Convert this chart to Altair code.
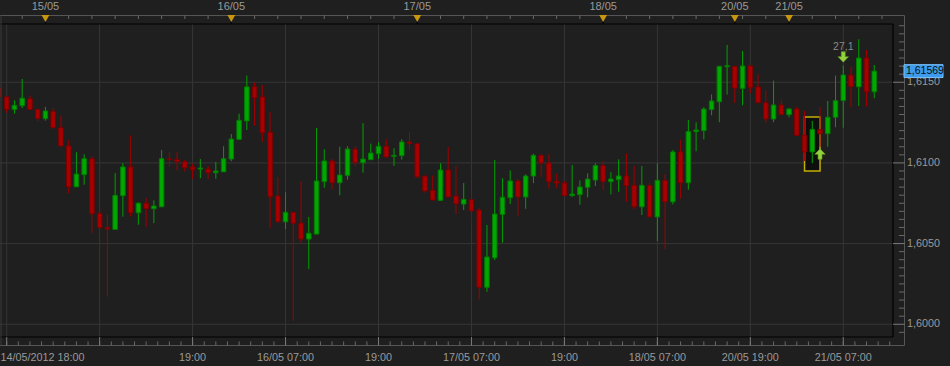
import altair as alt
import pandas as pd

# ---------------- data ----------------
opens = [1.61464, 1.61409, 1.61332, 1.61355, 1.61398, 1.61332, 1.61274, 1.61320, 1.61218, 1.61105,
         1.60852, 1.60927, 1.61026, 1.60688, 1.60601, 1.60588, 1.60797, 1.60975, 1.60691, 1.60750,
         1.60716, 1.60728, 1.61026, 1.61022, 1.61007, 1.60975, 1.60962, 1.60962, 1.60939, 1.60945,
         1.61024, 1.61146, 1.61260, 1.61471, 1.61409, 1.61190, 1.60795, 1.60635, 1.60694, 1.60627,
         1.60528, 1.60559, 1.60884, 1.61012, 1.60877, 1.60923, 1.61086, 1.61001, 1.61020, 1.61057,
         1.61103, 1.61041, 1.61045, 1.61130, 1.61119, 1.60919, 1.60830, 1.60768, 1.60956, 1.60795,
         1.60745, 1.60772, 1.60708, 1.60229, 1.60412, 1.60681, 1.60784, 1.60888, 1.60789, 1.60919,
         1.61047, 1.60999, 1.60886, 1.60875, 1.60797, 1.60803, 1.60849, 1.60894, 1.60983, 1.60884,
         1.60896, 1.60919, 1.60861, 1.60728, 1.60861, 1.60665, 1.60892, 1.60759, 1.61068, 1.60877,
         1.61194, 1.61200, 1.61330, 1.61379, 1.61596, 1.61599, 1.61462, 1.61601, 1.61471, 1.61373,
         1.61272, 1.61359, 1.61299, 1.61334, 1.61171, 1.61068, 1.61206, 1.61181, 1.61283, 1.61386,
         1.61545, 1.61472, 1.61650, 1.61441]
highs = [1.61471, 1.61412, 1.61388, 1.61520, 1.61419, 1.61334, 1.61347, 1.61340, 1.61293, 1.61142,
         1.61066, 1.61053, 1.61041, 1.60722, 1.60681, 1.60937, 1.60999, 1.61171, 1.60756, 1.60782,
         1.60768, 1.61080, 1.61069, 1.61066, 1.61018, 1.60995, 1.61024, 1.60981, 1.61006, 1.61103,
         1.61179, 1.61305, 1.61541, 1.61497, 1.61483, 1.61314, 1.60913, 1.60818, 1.60696, 1.60886,
         1.60665, 1.61216, 1.61084, 1.61024, 1.61100, 1.61103, 1.61105, 1.61247, 1.61119, 1.61128,
         1.61146, 1.61091, 1.61148, 1.61190, 1.61121, 1.60921, 1.60921, 1.60998, 1.61100, 1.60981,
         1.60875, 1.60797, 1.60720, 1.60615, 1.61018, 1.60905, 1.60954, 1.60900, 1.60929, 1.61057,
         1.61057, 1.61055, 1.60933, 1.60888, 1.60987, 1.60892, 1.60936, 1.60998, 1.61012, 1.60942,
         1.61022, 1.61059, 1.60981, 1.60981, 1.60877, 1.60998, 1.60931, 1.61080, 1.61144, 1.61266,
         1.61252, 1.61345, 1.61425, 1.61601, 1.61731, 1.61601, 1.61694, 1.61603, 1.61551, 1.61448,
         1.61510, 1.61394, 1.61340, 1.61347, 1.61322, 1.61260, 1.61345, 1.61384, 1.61541, 1.61603,
         1.61596, 1.61766, 1.61700, 1.61607]
lows = [1.61402, 1.61311, 1.61305, 1.61340, 1.61330, 1.61258, 1.61262, 1.61210, 1.61103, 1.60812,
        1.60850, 1.60865, 1.60567, 1.60596, 1.60171, 1.60586, 1.60667, 1.60667, 1.60617, 1.60604,
        1.60627, 1.60726, 1.60976, 1.60954, 1.60945, 1.60900, 1.60905, 1.60900, 1.60902, 1.60945,
        1.61010, 1.61146, 1.61204, 1.61231, 1.61130, 1.60598, 1.60629, 1.60590, 1.60020, 1.60502,
        1.60342, 1.60559, 1.60846, 1.60836, 1.60799, 1.60896, 1.60981, 1.60939, 1.61018, 1.61026,
        1.61030, 1.60981, 1.61020, 1.61084, 1.60905, 1.60815, 1.60768, 1.60764, 1.60787, 1.60683,
        1.60708, 1.60609, 1.60154, 1.60201, 1.60398, 1.60505, 1.60745, 1.60671, 1.60716, 1.60875,
        1.60913, 1.60840, 1.60843, 1.60795, 1.60790, 1.60741, 1.60787, 1.60857, 1.60832, 1.60805,
        1.60821, 1.60759, 1.60714, 1.60677, 1.60663, 1.60516, 1.60466, 1.60743, 1.60778, 1.60834,
        1.61072, 1.61146, 1.61295, 1.61252, 1.61423, 1.61371, 1.61357, 1.61432, 1.61371, 1.61247,
        1.61252, 1.61297, 1.61283, 1.61169, 1.61012, 1.60998, 1.61100, 1.61100, 1.61221, 1.61218,
        1.61345, 1.61353, 1.61349, 1.61401]
closes = [1.61409, 1.61332, 1.61357, 1.61401, 1.61332, 1.61274, 1.61322, 1.61218, 1.61105, 1.60852,
          1.60931, 1.61026, 1.60685, 1.60598, 1.60590, 1.60799, 1.60975, 1.60691, 1.60750, 1.60716,
          1.60733, 1.61026, 1.61020, 1.61007, 1.60970, 1.60958, 1.60968, 1.60939, 1.60950, 1.61026,
          1.61148, 1.61264, 1.61471, 1.61404, 1.61187, 1.60790, 1.60635, 1.60694, 1.60626, 1.60528,
          1.60564, 1.60888, 1.61012, 1.60877, 1.60925, 1.61086, 1.61001, 1.61024, 1.61061, 1.61103,
          1.61038, 1.61047, 1.61130, 1.61119, 1.60913, 1.60826, 1.60770, 1.60956, 1.60789, 1.60747,
          1.60774, 1.60702, 1.60229, 1.60417, 1.60683, 1.60787, 1.60888, 1.60789, 1.60919, 1.61047,
          1.60999, 1.60884, 1.60875, 1.60797, 1.60807, 1.60851, 1.60900, 1.60983, 1.60884, 1.60900,
          1.60919, 1.60859, 1.60728, 1.60861, 1.60665, 1.60892, 1.60759, 1.61068, 1.60877, 1.61194,
          1.61204, 1.61334, 1.61384, 1.61599, 1.61603, 1.61464, 1.61601, 1.61469, 1.61373, 1.61272,
          1.61359, 1.61299, 1.61334, 1.61171, 1.61069, 1.61208, 1.61181, 1.61283, 1.61386, 1.61545,
          1.61472, 1.61650, 1.61441, 1.61569]

grid_idx = [1, 13, 25, 37, 49, 61, 73, 85, 97, 109]
bottom_idx = [25, 37, 49, 61, 73, 85, 97, 109]
bottom_labels = ["19:00", "16/05 07:00", "19:00", "17/05 07:00", "19:00",
                 "18/05 07:00", "20/05 19:00", "21/05 07:00"]
first_label = "14/05/2012 18:00"
top_idx = [6, 30, 54, 78, 95, 102]
top_labels = ["15/05", "16/05", "17/05", "18/05", "20/05", "21/05"]
price_levels = [1.6000, 1.6050, 1.6100, 1.6150]
price_labels = ["1,6000", "1,6050", "1,6100", "1,6150"]
minor_prices = [1.5995, 1.6005, 1.6010, 1.6015, 1.6020, 1.6025, 1.6030, 1.6035, 1.6040, 1.6045,
                1.6055, 1.6060, 1.6065, 1.6070, 1.6075, 1.6080, 1.6085, 1.6090, 1.6095,
                1.6105, 1.6110, 1.6115, 1.6120, 1.6125, 1.6130, 1.6135, 1.6140, 1.6145,
                1.6155, 1.6160, 1.6165, 1.6170, 1.6175, 1.6180, 1.6185]
top_tick_idx = list(range(0, 116, 3))
bottom_tick_idx = [1 + 1.5 * n for n in range(0, 77)]
last_price = 1.61569
last_label = "1,61569"
box_idx = [104, 106]
box_prices = [1.60950, 1.61285]
signal_down = {"i": 109, "p": 1.61657, "label": "27,1", "label_p": 1.61719}
signal_up = {"i": 106, "p": 1.61055}

# ---------------- styling ----------------
BG = "#1f1f1f"
GRID = "#363636"
FRAME_GRAY = "#555555"
TICK = "#6a6a6a"
TXT = "#9a9a9a"
FONT = "Liberation Sans"
G_FILL, G_STROKE, G_WICK = "#00a800", "#007d00", "#00a000"
R_FILL, R_STROKE, R_WICK = "#a80000", "#7d0000", "#a00000"

W, H = 893, 313
X = alt.Scale(domain=[0.135, 115.42], nice=False, zero=False)
Y = alt.Scale(domain=[1.59921, 1.61861], nice=False, zero=False)

df = pd.DataFrame({"i": list(range(len(opens))), "open": opens, "high": highs,
                   "low": lows, "close": closes})
up = "datum.close >= datum.open"

one = pd.DataFrame({"a": [0]})

def xq(f):
    return alt.X(f, type="quantitative", scale=X, axis=None)

def yq(f):
    return alt.Y(f, type="quantitative", scale=Y, axis=None)

layers = []

# gridlines
layers.append(alt.Chart(pd.DataFrame({"i": grid_idx})).mark_rule(color=GRID, strokeWidth=1).encode(
    x=xq("i"), y=alt.value(0), y2=alt.value(H)))
layers.append(alt.Chart(pd.DataFrame({"p": price_levels})).mark_rule(color=GRID, strokeWidth=1).encode(
    y=yq("p"), x=alt.value(0), x2=alt.value(W)))

# yellow highlight box
layers.append(alt.Chart(pd.DataFrame({"x1": [box_idx[0]], "x2": [box_idx[1]],
                                      "y1": [box_prices[0]], "y2": [box_prices[1]]}))
              .mark_rect(fill="#0e0e0e", stroke="#c2b000", strokeWidth=1.5).encode(
    x=xq("x1"), x2="x2:Q", y=yq("y1"), y2="y2:Q"))

# wicks
layers.append(alt.Chart(df).mark_rule(strokeWidth=1).encode(
    x=xq("i"), y=yq("low"), y2="high:Q",
    color=alt.condition(up, alt.value(G_WICK), alt.value(R_WICK))))

# bodies
layers.append(alt.Chart(df).transform_calculate(xa="datum.i - 0.29", xb="datum.i + 0.29")
              .mark_rect(strokeWidth=1).encode(
    x=xq("xa"), x2="xb:Q", y=yq("open"), y2="close:Q",
    fill=alt.condition(up, alt.value(G_FILL), alt.value(R_FILL)),
    stroke=alt.condition(up, alt.value(G_STROKE), alt.value(R_STROKE))))

# signal arrows
down_arrow = "M-0.38,-1 L0.38,-1 L0.38,-0.05 L1,-0.05 L0,1 L-1,-0.05 L-0.38,-0.05 Z"
up_arrow = "M-0.38,1 L0.38,1 L0.38,0.05 L1,0.05 L0,-1 L-1,0.05 L-0.38,0.05 Z"
layers.append(alt.Chart(pd.DataFrame({"i": [signal_down["i"]], "p": [signal_down["p"]]}))
              .mark_point(shape=down_arrow, filled=True, size=110, fill="#93d23c",
                          stroke="#5f9a22", strokeWidth=0.6, opacity=1).encode(
    x=xq("i"), y=yq("p")))
layers.append(alt.Chart(pd.DataFrame({"i": [signal_up["i"]], "p": [signal_up["p"]]}))
              .mark_point(shape=up_arrow, filled=True, size=110, fill="#93d23c",
                          stroke="#5f9a22", strokeWidth=0.6, opacity=1).encode(
    x=xq("i"), y=yq("p")))
layers.append(alt.Chart(pd.DataFrame({"i": [signal_down["i"]], "p": [signal_down["label_p"]],
                                      "t": [signal_down["label"]]}))
              .mark_text(font=FONT, fontSize=10.5, color="#8a8a8a", align="center", baseline="middle").encode(
    x=xq("i"), y=yq("p"), text="t:N"))

# black plot frame
layers.append(alt.Chart(one).mark_rule(color="#000000", strokeWidth=1.2).encode(
    x=alt.value(0), x2=alt.value(W), y=alt.value(0)))
layers.append(alt.Chart(one).mark_rule(color="#000000", strokeWidth=1.2).encode(
    x=alt.value(0), x2=alt.value(W), y=alt.value(H)))
layers.append(alt.Chart(one).mark_rule(color="#000000", strokeWidth=1.2).encode(
    x=alt.value(W), y=alt.value(0), y2=alt.value(H)))

# gray outer frame
layers.append(alt.Chart(one).mark_rule(color=FRAME_GRAY, strokeWidth=1).encode(
    x=alt.value(0), x2=alt.value(904.5), y=alt.value(-8.5)))
layers.append(alt.Chart(one).mark_rule(color=FRAME_GRAY, strokeWidth=1).encode(
    x=alt.value(0), x2=alt.value(904.5), y=alt.value(321.5)))
layers.append(alt.Chart(one).mark_rule(color=FRAME_GRAY, strokeWidth=1).encode(
    x=alt.value(904.5), y=alt.value(-8.5), y2=alt.value(321.5)))
layers.append(alt.Chart(one).mark_rule(color="#3a3a3a", strokeWidth=1).encode(
    x=alt.value(1), y=alt.value(-8.5), y2=alt.value(321.5)))

# top strip: ticks, markers, labels
layers.append(alt.Chart(pd.DataFrame({"i": top_tick_idx})).mark_rule(color=TICK, strokeWidth=1).encode(
    x=xq("i"), y=alt.value(-8.5), y2=alt.value(-5)))
layers.append(alt.Chart(pd.DataFrame({"i": top_idx})).mark_rule(color="#000000", strokeWidth=1).encode(
    x=xq("i"), y=alt.value(-3), y2=alt.value(0)))
layers.append(alt.Chart(pd.DataFrame({"i": top_idx})).mark_point(
    shape="triangle-down", filled=True, size=62, color="#c9960f", opacity=1).encode(
    x=xq("i"), y=alt.value(-5.5)))
layers.append(alt.Chart(pd.DataFrame({"i": top_idx, "t": top_labels})).mark_text(
    font=FONT, fontSize=11, color=TXT, align="center", baseline="middle").encode(
    x=xq("i"), y=alt.value(-17), text="t:N"))

# bottom strip: ticks and labels
layers.append(alt.Chart(pd.DataFrame({"i": bottom_tick_idx})).mark_rule(color=TICK, strokeWidth=1).encode(
    x=xq("i"), y=alt.value(317.5), y2=alt.value(321.5)))
layers.append(alt.Chart(pd.DataFrame({"i": grid_idx})).mark_rule(color="#7a7a7a", strokeWidth=1).encode(
    x=xq("i"), y=alt.value(H), y2=alt.value(321.5)))
layers.append(alt.Chart(pd.DataFrame({"i": bottom_idx, "t": bottom_labels})).mark_text(
    font=FONT, fontSize=10.8, color=TXT, align="center", baseline="middle").encode(
    x=xq("i"), y=alt.value(333.5), text="t:N"))
layers.append(alt.Chart(pd.DataFrame({"t": [first_label]})).mark_text(
    font=FONT, fontSize=10.8, color=TXT, align="left", baseline="middle").encode(
    x=alt.value(0.5), y=alt.value(333.5), text="t:N"))

# right strip: ticks and labels
layers.append(alt.Chart(pd.DataFrame({"p": minor_prices})).mark_rule(color=TICK, strokeWidth=1).encode(
    y=yq("p"), x=alt.value(899), x2=alt.value(904.5)))
layers.append(alt.Chart(pd.DataFrame({"p": price_levels})).mark_rule(color="#7a7a7a", strokeWidth=1).encode(
    y=yq("p"), x=alt.value(W), x2=alt.value(904.5)))
layers.append(alt.Chart(pd.DataFrame({"p": price_levels, "t": price_labels})).mark_text(
    font=FONT, fontSize=10.8, color=TXT, align="left", baseline="middle").encode(
    y=yq("p"), x=alt.value(907), text="t:N"))

# last price tag
layers.append(alt.Chart(pd.DataFrame({"p": [last_price]}))
              .transform_calculate(lo="datum.p - 0.0004", hi="datum.p + 0.0004")
              .mark_rect(fill="#3d9ced", stroke="#7cc0f7", strokeWidth=1).encode(
    y=yq("lo"), y2="hi:Q", x=alt.value(904), x2=alt.value(943)))
layers.append(alt.Chart(pd.DataFrame({"p": [last_price], "t": [last_label]})).mark_text(
    font=FONT, fontSize=10.5, color="#0b0b0b", align="left", baseline="middle").encode(
    y=yq("p"), x=alt.value(906), text="t:N"))

chart = alt.layer(*layers).properties(
    width=W, height=H,
    background=BG,
    padding={"left": 0, "top": 24, "right": 57, "bottom": 29},
    autosize=alt.AutoSizeParams(type="none"),
).configure_view(stroke=None, fill=BG)

chart.save("out.html", embed_options={"renderer": "svg", "actions": False})
